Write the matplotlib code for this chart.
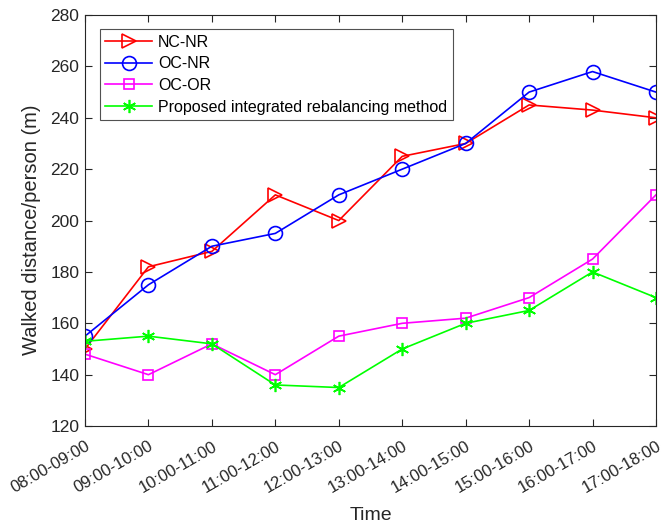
import matplotlib
matplotlib.use("Agg")
import matplotlib.pyplot as plt

plt.rcParams['font.family'] = ['Liberation Sans', 'DejaVu Sans']

time_labels = ["08:00-09:00", "09:00-10:00", "10:00-11:00", "11:00-12:00", "12:00-13:00",
               "13:00-14:00", "14:00-15:00", "15:00-16:00", "16:00-17:00", "17:00-18:00"]
nc_nr = [150, 182, 188, 210, 200, 225, 230, 245, 243, 240]
oc_nr = [155, 175, 190, 195, 210, 220, 230, 250, 258, 250]
oc_or = [148, 140, 152, 140, 155, 160, 162, 170, 185, 210]
proposed = [153, 155, 152, 136, 135, 150, 160, 165, 180, 170]

fig = plt.figure(figsize=(6.62, 5.26), dpi=100)
ax = fig.add_axes([0.1284, 0.190, 0.8625, 0.7814])
x = list(range(len(time_labels)))

ax.plot(x, nc_nr, color='#ff0000', marker='>', ms=10.5, mfc='none', mew=1.2, lw=1.2, label='NC-NR')
ax.plot(x, oc_nr, color='#0000ff', marker='o', ms=10, mfc='none', mew=1.2, lw=1.2, label='OC-NR')
ax.plot(x, oc_or, color='#ff00ff', marker='s', ms=7.5, mfc='none', mew=1.2, lw=1.2, label='OC-OR')
ax.plot(x, proposed, color='#00ff00', marker=(6, 2, 0), ms=9.5, mfc='none', mew=1.2, lw=1.2,
        label='Proposed integrated rebalancing method')

ax.set_xlim(0, len(x) - 1)
ax.set_ylim(120, 280)
ax.set_yticks(range(120, 281, 20))
ax.set_xticks(x)
ax.set_xticklabels(time_labels, rotation=30, ha='right', rotation_mode='anchor', fontsize=12)
ax.tick_params(axis='y', labelsize=12.5, pad=4)
ax.tick_params(axis='x', pad=9)
ax.tick_params(direction='in', top=True, right=True, length=5, color='#262626', labelcolor='#262626')
for s in ax.spines.values():
    s.set_color('#262626')
    s.set_linewidth(0.8)
ax.set_xlabel('Time', fontsize=14, color='#262626', labelpad=8)
ax.set_ylabel('Walked distance/person (m)', fontsize=14.5, color='#262626')
ax.yaxis.set_label_coords(-0.077, 0.477)

leg = ax.legend(loc='upper left', bbox_to_anchor=(0.026, 0.966), fontsize=11.5, frameon=True,
                fancybox=False, edgecolor='#262626', handlelength=2.9, borderpad=0.35,
                labelspacing=0.42, handletextpad=0.4, borderaxespad=0)
leg.get_frame().set_linewidth(0.8)

fig.savefig('out.png', dpi=100)
